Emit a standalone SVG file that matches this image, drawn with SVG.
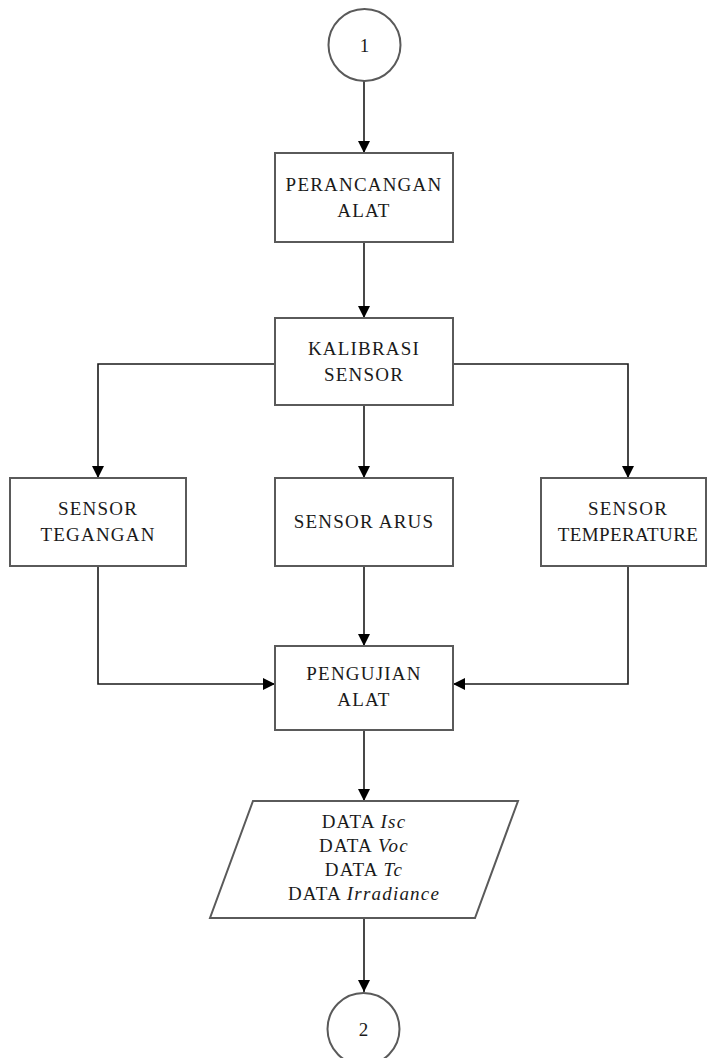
<svg xmlns="http://www.w3.org/2000/svg" width="713" height="1058" viewBox="0 0 713 1058">
<style>
.box{fill:#fff;stroke:#5a5a5a;stroke-width:2}
.con{fill:none;stroke:#1a1a1a;stroke-width:1.6}
.t{font-family:"Liberation Serif","Times New Roman",serif;font-size:19px;fill:#1a1a1a;text-anchor:middle;letter-spacing:1.2px}
.n{font-family:"Liberation Serif","Times New Roman",serif;font-size:19px;fill:#1a1a1a;text-anchor:middle}
.i{font-style:italic}
</style>
<defs>
<marker id="ah" viewBox="0 0 12 12" refX="12" refY="6" markerWidth="12" markerHeight="12" markerUnits="userSpaceOnUse" orient="auto">
<path d="M0,0 L12,6 L0,12 z" fill="#000"/>
</marker>
</defs>
<rect width="713" height="1058" fill="#fff"/>
<g id="connectors" class="con" marker-end="url(#ah)">
<path d="M364,81 V153"/>
<path d="M364,242 V318"/>
<path d="M275,364 H98 V478"/>
<path d="M453,364 H628 V478"/>
<path d="M364,405 V478"/>
<path d="M98,566 V684 H275"/>
<path d="M628,566 V684 H453"/>
<path d="M364,566 V646"/>
<path d="M364,730 V801"/>
<path d="M364,918 V992"/>
</g>
<g id="start">
<circle class="box" cx="364.5" cy="45" r="36"/>
<text class="n" x="364.5" y="52">1</text>
</g>
<g id="perancangan">
<rect class="box" x="275" y="153" width="178" height="89"/>
<text class="t" x="364" y="191">PERANCANGAN</text>
<text class="t" x="364" y="217">ALAT</text>
</g>
<g id="kalibrasi">
<rect class="box" x="275" y="318" width="178" height="87"/>
<text class="t" x="364" y="355">KALIBRASI</text>
<text class="t" x="364" y="381">SENSOR</text>
</g>
<g id="tegangan">
<rect class="box" x="10" y="478" width="176" height="88"/>
<text class="t" x="98" y="515">SENSOR</text>
<text class="t" x="98" y="541">TEGANGAN</text>
</g>
<g id="arus">
<rect class="box" x="275" y="478" width="178" height="88"/>
<text class="t" x="364" y="528">SENSOR ARUS</text>
</g>
<g id="temperature">
<rect class="box" x="541" y="478" width="165" height="88"/>
<text class="t" x="628" y="515">SENSOR</text>
<text class="t" x="628" y="541" style="letter-spacing:0.4px">TEMPERATURE</text>
</g>
<g id="pengujian">
<rect class="box" x="275" y="646" width="178" height="84"/>
<text class="t" x="364" y="680">PENGUJIAN</text>
<text class="t" x="364" y="706">ALAT</text>
</g>
<g id="data">
<polygon class="box" points="253,801 518,801 475,918 210,918"/>
<text class="t" x="364" y="828">DATA <tspan class="i">Isc</tspan></text>
<text class="t" x="364" y="852">DATA <tspan class="i">Voc</tspan></text>
<text class="t" x="364" y="876">DATA <tspan class="i">Tc</tspan></text>
<text class="t" x="364" y="900">DATA <tspan class="i">Irradiance</tspan></text>
</g>
<g id="end">
<circle class="box" cx="363.5" cy="1029" r="36"/>
<text class="n" x="363.5" y="1036">2</text>
</g>
</svg>
